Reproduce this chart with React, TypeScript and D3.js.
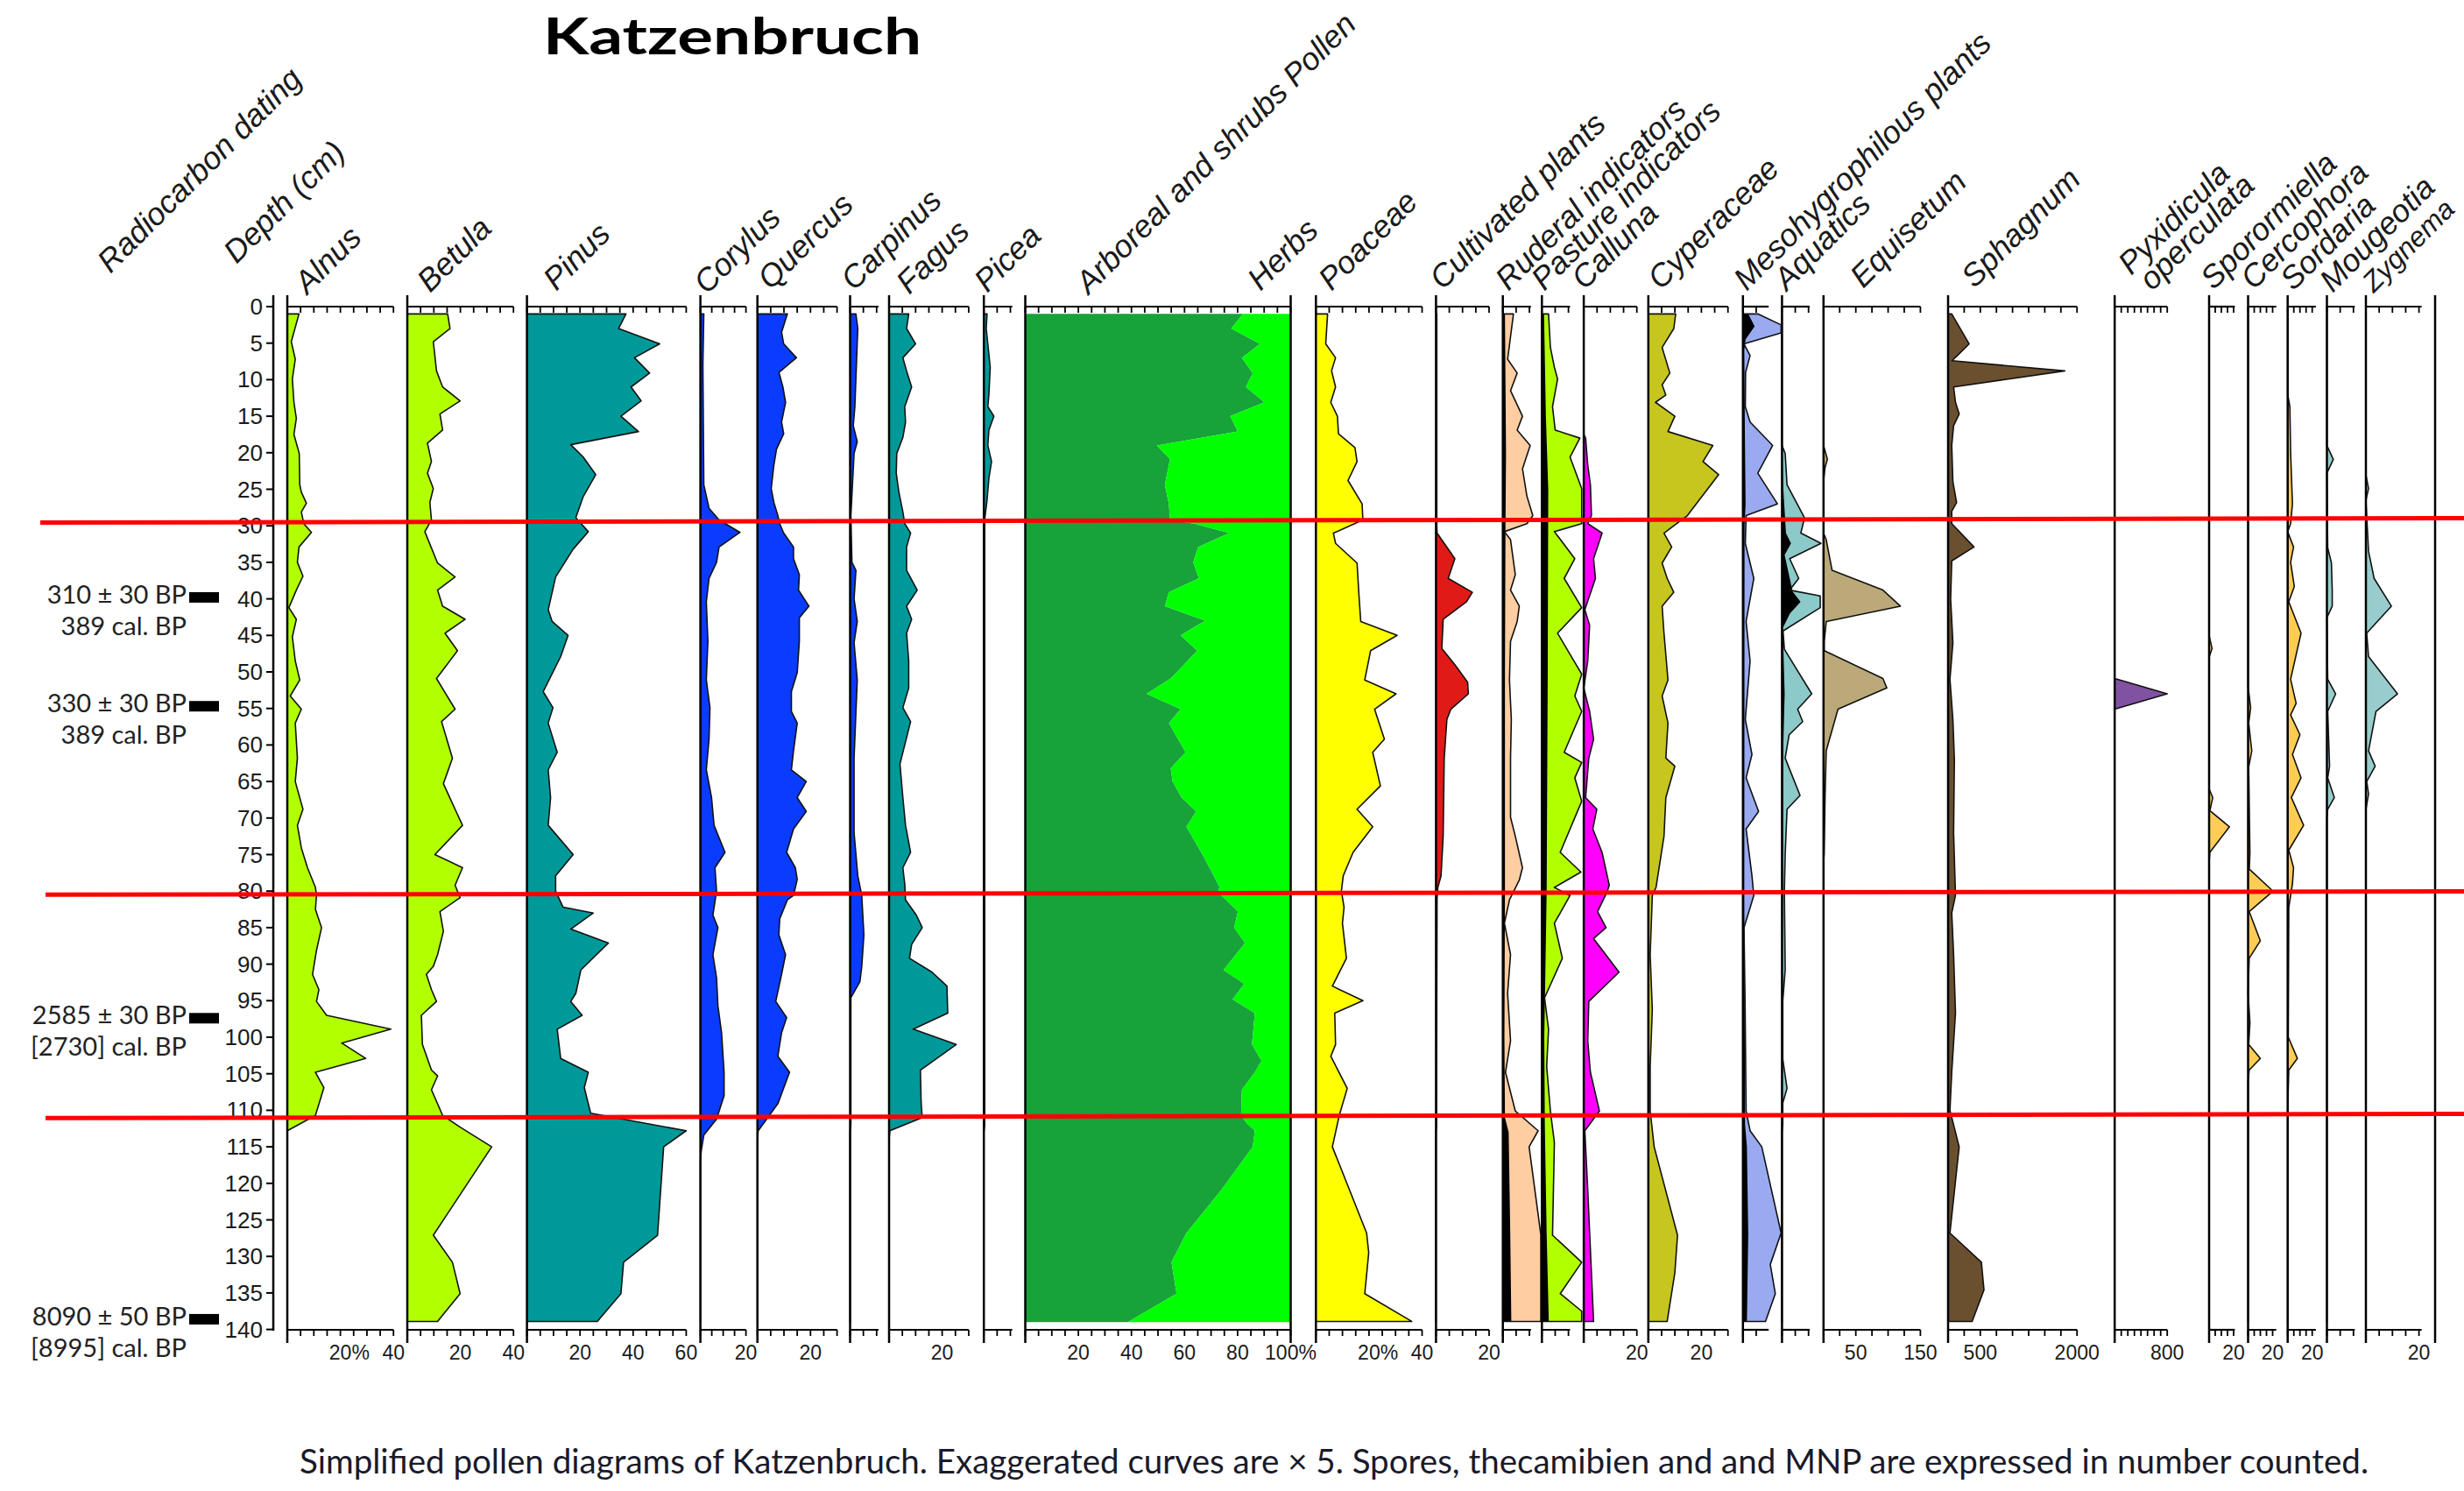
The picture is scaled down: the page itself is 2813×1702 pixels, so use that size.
import React from 'react';
import * as d3 from 'd3';

type Pt = [number, number]; // [depth cm, value]

// ---------- DATA ----------
const depthTicks = d3.range(0, 141, 5);
const zoneDepths: [number, number][] = [[29.56, 28.96], [80.5, 80.04], [111.07, 110.5]];
const dates = [
  { depth: 39.8, bp: '310 ± 30 BP', cal: '389 cal. BP' },
  { depth: 54.7, bp: '330 ± 30 BP', cal: '389 cal. BP' },
  { depth: 97.4, bp: '2585 ± 30 BP', cal: '[2730] cal. BP' },
  { depth: 138.6, bp: '8090 ± 50 BP', cal: '[8995] cal. BP' },
];

const alnus: Pt[] = [[1,4.4],[4.8,1.5],[7.2,3],[9.9,1.9],[13.1,2.5],[15.3,3.4],[17.5,2.5],[20.1,4.5],[24.4,4.7],[25.4,5.3],[26.9,7.2],[28.1,5.3],[29.7,6.2],[30.9,9.1],[32.9,4.4],[35,3.8],[36.9,5.9],[38.8,3.4],[41.2,0.6],[42.8,3.4],[45.2,1.9],[48.5,3],[51.1,4.7],[53.3,1.1],[55.1,5.3],[57,3],[61.8,3.8],[65,3],[68.8,5.9],[71,3.8],[74.1,5.3],[76.8,7.6],[79.5,10.6],[80.6,11],[82.5,10.6],[85,12.9],[88.1,11],[91.4,9.5],[93.5,11.9],[95.1,11],[97,14.8],[98.9,39],[100.8,20.5],[102.9,29.5],[104.8,10.6],[106.9,13.8],[110.7,10.6],[112.8,0],[139,0]];
const betula: Pt[] = [[1,15.2],[3,16.1],[4.8,9.8],[8.8,11],[11,13.3],[12.9,19.9],[14.7,12.3],[16.9,13.3],[18.7,7.6],[21.2,9.1],[22.8,7.6],[24.9,9.8],[26.8,8.5],[29.2,9.1],[30.8,6.6],[35.1,11.4],[37,18],[38.8,11.4],[41,13.3],[42.8,21.8],[44.7,14.2],[47.1,18.9],[50.9,11],[55.1,18],[56.8,12.9],[61.8,17],[65.3,13.6],[68.8,18],[71,20.8],[75,10.4],[76.8,20.8],[79.2,18],[80.9,19.9],[82.8,12.3],[85.5,13.6],[88.7,11.4],[90.3,9.8],[91.4,7.2],[93.5,9.1],[95.1,11],[97,5.3],[101,5.7],[104.5,9.1],[105.3,11.4],[107.2,9.1],[110.7,13.3],[112.3,19.9],[115,31.8],[127.1,9.8],[130.8,17],[135.1,19.9],[138.9,11.4]];
const pinus: Pt[] = [[1,37.3],[3,34.5],[5.1,50],[7,40.5],[9.1,46.2],[11,39.2],[12.9,43],[15,35.4],[17.1,42],[18.9,16.5],[20.6,21.2],[23,25.9],[26,21.2],[28.9,18.4],[30.8,23.1],[33.2,17.4],[37,10.8],[41.5,8],[43.1,9.5],[45,15.5],[47.9,12.7],[52.7,6.1],[54.9,9.8],[57,8],[61,11.4],[63.4,8],[67.2,8.9],[71,8],[75,17.4],[77.9,10.8],[80,10.8],[82.2,13.6],[83,25],[85.2,16.5],[87.1,30.7],[90.8,20.3],[94,18.4],[95.1,16.5],[97,20.8],[98.9,11.4],[102.9,12.7],[104.8,23.1],[106.9,21.6],[110.4,24],[112.8,60],[115,51.5],[127.1,49.2],[130.8,36.4],[135.1,35.4],[138.9,26.5]];
const corylus: Pt[] = [[1,1.5],[8,1.1],[24.4,1.5],[27.6,3.8],[29.2,8.2],[30.9,17.4],[32.9,8.2],[35,7.1],[37.2,3.8],[40.4,2.6],[45.8,3.3],[51.1,2.6],[54.9,4.2],[59.2,3.8],[63.4,2.6],[67.2,4.9],[71,6],[74.7,10.8],[76.8,6.4],[80,7.1],[83.3,5.5],[85,7.7],[88.7,5.5],[91.9,7.1],[95.7,7.7],[99.4,9.3],[104.8,10.4],[108,10.4],[111.2,7.1],[113.4,1.5],[115.5,0.4],[117,0],[139,0]];
const quercus: Pt[] = [[1,11.3],[3.5,9.1],[5.1,9.9],[7,14.7],[9,8.1],[11,9.6],[13.1,10.6],[15.8,9.1],[17.4,9.9],[19.5,7.2],[21.7,6.2],[24.9,5.2],[26.8,6.2],[28.6,7.7],[29.7,8.4],[31,9.9],[32.9,13.6],[34.5,13.6],[36.7,15.8],[38.8,15.5],[41,19.4],[42.6,15.8],[45.8,15.8],[50.1,15],[52.7,12.8],[55.4,12.8],[57,15],[60.8,13.6],[63.4,12.8],[65,18.4],[67.2,15],[69.1,18.4],[71.5,13.6],[74.7,11],[76.8,14.3],[78.4,15],[80.6,13.6],[81.2,11.3],[83.8,8.4],[86,8.1],[88.7,10.6],[91.4,9.1],[95.1,6.9],[97.3,11],[99.4,9.1],[102.6,7.7],[104.8,12.1],[109.1,7.7],[112.8,0.3],[114,0],[139,0]];
const carpinus: Pt[] = [[1,2.2],[3,2.9],[13.7,1.8],[16.3,1.2],[18.5,2.7],[20.1,1.5],[28.6,0.3],[35,0.7],[36.1,2.2],[40,1.5],[43.1,2.7],[46,1.5],[51.1,2.7],[61.8,1.5],[72,1.5],[77.9,2.9],[80.6,4.4],[86,5.2],[90.3,4.4],[92.4,3.7],[94.6,0.3],[112,0.3],[113,0],[139,0]];
const fagus: Pt[] = [[1,7.4],[3,6.6],[5.1,10],[7,5.2],[8.8,6.6],[11,8.5],[13.7,5.9],[15.8,6.2],[17.9,5.2],[20.1,2.9],[22.8,2.7],[25.4,3.7],[28.1,5.2],[29.7,5.9],[31,8.1],[32.9,6.6],[36.1,6.6],[38.8,10.6],[41,6.6],[42.8,8.5],[44.7,6.6],[48.5,7.4],[52.2,7.4],[54.9,5.2],[56.8,8.1],[62.6,4.1],[67.2,5.2],[71,6.2],[74.7,8.1],[76.8,5.2],[79,5.9],[81.2,6.2],[83.3,10.3],[85,12.5],[87.3,8.5],[89.2,7.7],[91.1,16.2],[93,21.8],[96.7,22.1],[98.9,9.1],[101,25.3],[104.5,11.8],[109.1,12.1],[111,12.5],[112.8,0.3],[114,0],[139,0]];
const picea: Pt[] = [[1,1.2],[3,0.9],[8.3,2.4],[12,1.9],[13.7,1.5],[15,3.8],[16.9,1.9],[19,1.5],[21.2,2.9],[23.5,1.9],[26.5,1.2],[29.2,0.3],[112,0.3],[113,0],[139,0]];
const arboreal: Pt[] = [[1,82],[3,77.6],[5.1,88.4],[7,81.6],[9.1,85.7],[11,83.1],[13.1,90.1],[15,77.2],[17.1,80.1],[19,49.6],[20.9,54.5],[24.4,52.6],[27,54.1],[29.2,54.5],[29.7,63.6],[31,76.9],[32.9,65.1],[35,63.3],[37.2,65.4],[39.1,54.1],[41,52.6],[43,67.8],[45,58.5],[47.1,64.8],[50.9,54.8],[53,45.7],[55.1,58.5],[57,54.1],[61,60.4],[63.2,54.8],[65,55.5],[67.2,58.9],[69.1,64.4],[71.2,60.7],[74.7,66.3],[77.4,70.3],[79.5,73.2],[80.1,72.5],[82.8,80.1],[85,78.7],[87.1,82.8],[90.8,74.7],[92.7,82.5],[94.8,78.1],[96.7,86.5],[101,85.4],[103.2,89],[104.8,86.5],[107.2,81.6],[110.7,81.3],[111.8,83.5],[112.8,86.5],[115,85.7],[120.9,73.9],[126.8,60.7],[130.8,55.1],[135.1,57],[139,38.6]];
const poaceae: Pt[] = [[1,4.4],[5.1,3.7],[7,7.4],[8.8,5.9],[11,7.4],[13.1,5.6],[15,8.1],[17.4,8.5],[19.3,14.7],[21.2,15.5],[23.8,12.1],[27,17.4],[29.2,17.7],[31,6.6],[32.4,7.4],[35.1,15.5],[39.4,16.2],[43.1,16.9],[45,30.6],[47.1,20.6],[51.1,18.4],[53,30.2],[55.1,22.1],[59.2,25.8],[61,21.4],[65.6,24.3],[68.8,15.5],[71.2,21.4],[74.7,14],[77.9,10.3],[80,9.6],[82.2,10.6],[84.4,10],[89.2,11.5],[93,6.2],[95,17.7],[96.7,7.1],[101,7.4],[102.6,5.6],[107,11.8],[110.7,8.8],[115,6.2],[126.8,19.1],[129.5,19.9],[135.1,18.4],[138.9,36.1]];
const cultivated: Pt[] = [[1,0.3],[30,0.3],[31,0.4],[34.5,7.1],[37.2,4.6],[39.1,13.7],[40.4,11.5],[42.8,2.7],[46.8,2.2],[49,7.1],[51.4,11.9],[53,12.2],[55.1,5.6],[56.5,4.1],[61.8,3.1],[72.5,2.7],[77.9,1.9],[79.5,0.7],[81,0.4],[95,0.3],[112,0.2],[113,0],[139,0]];
const ruderal: Pt[] = [[1,4],[7.2,1.8],[9.1,5.4],[11.5,2.9],[15,7.4],[16.9,5.4],[19,10.3],[22.2,7.4],[26,9.1],[28.6,11.3],[29.7,9.1],[30.8,0.6],[31.9,2.9],[36.7,4.7],[38.8,2.9],[41,6.2],[43.1,5.4],[45.8,2.9],[51.1,2.5],[56.5,3.2],[61.8,2.9],[69.9,2.9],[72.5,4.7],[76.8,7.4],[78.5,6.2],[81.2,2.5],[84.4,0.6],[88.7,2.9],[94,1.8],[100.5,2.9],[104.8,1],[110.1,4.7],[112.8,13.3],[115,9.9],[127,14.3],[138.9,14.3]];
const ruderalBlack: Pt[] = [[1,0.8],[20,1.2],[30,1],[50,0.8],[80,0.8],[100,0.6],[111,0.8],[113,2.2],[127,2.8],[138.9,3.2]];
const pasture: Pt[] = [[1,2.5],[5.6,3.2],[8.3,4.7],[9.9,5.9],[13.7,4],[16.9,5],[18,14.3],[20.6,10.6],[24.9,15],[29.7,15],[30.8,4.7],[34.5,12.4],[37.2,8.4],[41.2,15],[44.7,5.9],[50.3,15],[53.3,12.4],[55.4,15],[61,8.4],[62.4,15],[64.5,12.4],[67.7,15],[74.7,6.9],[77.4,14.7],[79.5,4.7],[80.6,10.6],[84.4,4.7],[89.2,7.7],[94.6,1],[98.9,2.5],[104,1.8],[110.1,3.2],[114.4,4.7],[127.1,4],[130.8,15],[135.1,6.9],[137.5,15],[138.9,15]];
const pastureBlack: Pt[] = [[1,0.8],[15,1.5],[25,2.4],[50,2.2],[80,1.8],[100,0.9],[112,1.1],[127,1.8],[138.9,2.6]];
const calluna: Pt[] = [[1,0],[17.5,0],[18,0.7],[21.7,1.5],[24.4,2.5],[28.6,2.9],[29.7,1.5],[31,6.9],[34.5,3.7],[37.2,4.4],[41.5,0.4],[43.6,2.2],[48.5,1.5],[52.2,0],[55.4,2.2],[59.2,3.7],[61.8,1.9],[67.2,0.7],[68.8,4.9],[71.5,3.4],[74.7,6.9],[79.2,9.6],[80.1,8.8],[82.8,5.2],[85,8.4],[86.5,3.7],[91.1,13.3],[95.1,1.9],[100.5,1.5],[104.8,2.5],[110.1,5.9],[112.8,0.4],[120.9,1.5],[138.9,3.7]];
const cyperaceae: Pt[] = [[1,10.3],[3,9.6],[5.6,5.2],[9.1,8.1],[10.7,5.2],[12.1,6.6],[13.1,2.7],[15,10],[17.1,7.4],[19,24.3],[21.2,20.6],[23,26.5],[28.6,14.7],[30,9.6],[31,5.9],[32.9,8.8],[35.1,5.2],[37.2,7.1],[39.1,9.6],[41,5.2],[44.7,5.9],[51.1,7.4],[53.3,5.2],[57,7.4],[61.8,6.6],[62.9,10],[67.2,6.6],[72.5,5.9],[79.5,2.9],[80.6,1.5],[88.7,0.7],[96.2,1.5],[104,0.7],[110.1,0.7],[115,2.2],[127.1,11],[132.2,10],[138.9,7.1]];
const meso: Pt[] = [[1,5.6],[2.5,14.4],[3.6,14.4],[5.1,0.4],[6.7,2.7],[9,1],[13.7,0.9],[15.8,2.7],[19,11.2],[22.8,5.6],[27,13],[28.6,1.2],[32.4,0.9],[37.2,4.1],[43.1,1.2],[48.5,2.7],[56.5,0.9],[61.3,3.4],[64.5,1.2],[69.1,5.9],[71.5,1.2],[77.9,3.4],[80.6,4.1],[85,0.4],[95,0.8],[110.1,1.2],[112.8,2.7],[115,7.1],[126.8,14.4],[131.1,10.3],[135.1,12.2],[138.9,8.5]];
const mesoBlack: Pt[] = [[1,2],[2.7,4.4],[4.5,1],[6,0.5],[20,0.8],[27,1],[30,0.6],[80,0.5],[112,0.8],[115,1.5],[127,2],[138.9,1.5]];
const aquatics: Pt[] = [[1,0],[19,0],[20.1,1.2],[24.4,1.9],[28.9,8.5],[31,7.1],[32.4,14.7],[34.5,2.9],[37.2,6.3],[38.8,2.9],[39.6,14.4],[41.2,14.4],[44.4,0.4],[46.9,0.9],[53,11.2],[55.1,5.9],[56.8,7.8],[58.6,2.7],[61.8,1.2],[66.9,6.8],[68.8,1.9],[75,1.2],[80,0.9],[90.8,1.2],[95,0.3],[103,0.3],[107,1.9],[109,0.3],[112,0.3],[113,0],[139,0]];
const aquaticsBlack: Pt[] = [[19,0],[25,0.5],[31,1.5],[32.4,3.4],[34,1],[39,4],[40.4,7],[42,3],[44,0.3],[53,1],[60,0.5],[80,0.3],[111,0.2],[113,0]];
const equisetum: Pt[] = [[1,0],[19,0],[20.9,6],[22,2.4],[24,0],[31,0],[31.9,4.2],[36.1,13.3],[38.8,92],[41,119],[43.1,4.2],[45.8,1.2],[47.1,1.2],[50.9,92],[52.2,98],[55.1,22.4],[60.8,4.2],[67,2.4],[75,1],[76,0],[139,0]];
const sphagnum: Pt[] = [[1,57],[5.1,327],[6.7,144],[7.4,60],[8.8,1810],[11,86],[13.1,115],[14.7,172],[16.3,86],[19,57],[24,75],[26.8,132],[28,57],[29.7,57],[32.9,402],[34.8,57],[40,40],[46,75],[51,29],[56.5,75],[62,98],[72,86],[80.6,115],[83,57],[88.7,86],[96.7,115],[104.8,57],[110,29],[115,172],[126.8,29],[130.8,517],[134.6,557],[138.9,373]];
const pyxidicula: Pt[] = [[1,0],[50.9,0],[53,800],[55.1,0],[139,0]];
const sporormiella: Pt[] = [[1,0],[45,0],[46.8,2.4],[48,0],[66,0],[67.2,3],[69,0.6],[71.2,16.6],[74.7,0.6],[76,0],[139,0]];
const cercophora: Pt[] = [[1,0],[52,0],[54.9,2.1],[57,0.5],[60.8,3],[63,0.5],[74.7,1.5],[77,1],[79.8,19],[80.1,19.6],[82.8,0.9],[86.8,10],[89.2,0.9],[94,0],[98,1.5],[101,0.5],[102.9,10],[104.5,0.9],[106,0],[139,0]];
const sordaria: Pt[] = [[1,0],[12,0],[13.7,1.8],[20,2.4],[27,3.9],[29.7,2.4],[30.8,0],[32.9,4.8],[35,2.4],[38.3,5.4],[40.4,0.9],[44.7,10.9],[51,2.4],[54.3,6.9],[55.9,2.4],[58.6,10],[61.3,3.9],[64.5,10.9],[67.2,3],[71,13],[74.4,0.9],[76.8,4.8],[79,3.9],[82.2,0.9],[100,0.5],[102.9,7.9],[104.5,0.9],[110,0],[139,0]];
const mougeotia: Pt[] = [[1,0],[19,0],[20.9,2.4],[22.8,0],[33,0.3],[35.1,1.7],[38.8,2],[41,2],[42.6,0],[51,0.3],[53,3.3],[55.4,0.3],[62.9,1],[64.5,0.3],[67.2,2.8],[68.8,0.3],[70,0],[139,0]];
const zygnema: Pt[] = [[1,0],[23,0],[24.9,1],[26.5,0],[33.5,1],[37.2,3.1],[41,9.6],[44.7,0.3],[47.9,1],[53,11.9],[55.4,3.8],[60.8,1],[62.9,3.5],[65,0.3],[66.7,1],[68.8,0],[139,0]];

// ---------- LAYOUT / STYLE ----------
const W = 2813, H = 1702;
const TOP_AXIS = 350, BOT_AXIS = 1518, LINE_TOP = 337, LINE_BOT = 1533;
const y = d3.scaleLinear().domain([0, 140]).range([350, 1517.6]);
const PCT = 3.03;
const labelFont = "'Liberation Sans', Arial, sans-serif";
const calFont = "Lato, 'Open Sans', sans-serif";

type Panel = {
  name: string; lines?: string[]; data: Pt[]; black?: Pt[]; color: string;
  left: number; max: number; px: number; step: number; labels: number[];
  pct?: number; pctCenter?: boolean; lx: number; ly: number; ap?: boolean; lfs?: number;
};

const panels: Panel[] = [
  { name: 'Alnus', data: alnus, color: '#B2FF00', left: 328, max: 40, px: PCT, step: 5, labels: [20, 40], pct: 20, lx: 351, ly: 337 },
  { name: 'Betula', data: betula, color: '#B2FF00', left: 465, max: 40, px: PCT, step: 5, labels: [20, 40], lx: 491, ly: 335 },
  { name: 'Pinus', data: pinus, color: '#009999', left: 601.6, max: 60, px: PCT, step: 5, labels: [20, 40, 60], lx: 635, ly: 333 },
  { name: 'Corylus', data: corylus, color: '#0A3CFF', left: 799.6, max: 20, px: 2.6, step: 5, labels: [20], lx: 807, ly: 337 },
  { name: 'Quercus', data: quercus, color: '#0A3CFF', left: 864.7, max: 30, px: PCT, step: 5, labels: [20], lx: 880, ly: 332 },
  { name: 'Carpinus', data: carpinus, color: '#0A3CFF', left: 970.5, max: 10.7, px: PCT, step: 5, labels: [], lx: 975, ly: 333 },
  { name: 'Fagus', data: fagus, color: '#009999', left: 1015, max: 30, px: PCT, step: 5, labels: [20], lx: 1038, ly: 337 },
  { name: 'Picea', data: picea, color: '#009999', left: 1123.2, max: 10.7, px: PCT, step: 5, labels: [], lx: 1127, ly: 335 },
  { name: 'Arboreal and shrubs Pollen', data: arboreal, color: '#17A23A', left: 1170.5, max: 100, px: PCT, step: 5, labels: [20, 40, 60, 80, 100], pct: 100, pctCenter: true, lx: 1243, ly: 337, ap: true },
  { name: 'Poaceae', data: poaceae, color: '#FFFF00', left: 1502.3, max: 40, px: PCT, step: 5, labels: [20, 40], pct: 20, lx: 1520, ly: 333 },
  { name: 'Cultivated plants', data: cultivated, color: '#E01B17', left: 1639.4, max: 20, px: PCT, step: 5, labels: [20], lx: 1647, ly: 332 },
  { name: 'Ruderal indicators', data: ruderal, black: ruderalBlack, color: '#FFCDA2', left: 1715.7, max: 10.6, px: PCT, step: 5, labels: [], lx: 1722, ly: 333 },
  { name: 'Pasture indicators', data: pasture, black: pastureBlack, color: '#B2FF00', left: 1760.3, max: 10.6, px: PCT, step: 5, labels: [], lx: 1763, ly: 333 },
  { name: 'Calluna', data: calluna, color: '#FF00FF', left: 1808.1, max: 20, px: PCT, step: 5, labels: [20], lx: 1809, ly: 332 },
  { name: 'Cyperaceae', data: cyperaceae, color: '#C6C61E', left: 1881.8, max: 30, px: PCT, step: 5, labels: [20], lx: 1896, ly: 332 },
  { name: 'Mesohygrophilous plants', data: meso, black: mesoBlack, color: '#99AAF0', left: 1989.8, max: 9.7, px: PCT, step: 5, labels: [], lx: 1994, ly: 333 },
  { name: 'Aquatics', data: aquatics, black: aquaticsBlack, color: '#8CC9C9', left: 2034.4, max: 10.4, px: PCT, step: 5, labels: [], lx: 2040, ly: 333 },
  { name: 'Equisetum', data: equisetum, color: '#BBA979', left: 2081.8, max: 150, px: 0.7373, step: 25, labels: [50, 150], lx: 2127, ly: 330 },
  { name: 'Sphagnum', data: sphagnum, color: '#6B5030', left: 2224, max: 2000, px: 0.0736, step: 250, labels: [500, 2000], lx: 2254, ly: 330 },
  { name: 'Pyxidicula', lines: ['Pyxidicula', 'operculata'], data: pyxidicula, color: '#8152A2', left: 2414.2, max: 800, px: 0.075, step: 100, labels: [800], lx: 2433, ly: 315 },
  { name: 'Sporormiella', data: sporormiella, color: '#FFCC55', left: 2522, max: 21, px: 1.4, step: 5, labels: [20], lx: 2527, ly: 332 },
  { name: 'Cercophora', data: cercophora, color: '#FFCC55', left: 2566.5, max: 23, px: 1.4, step: 5, labels: [20], lx: 2573, ly: 332 },
  { name: 'Sordaria', data: sordaria, color: '#FFCC55', left: 2611.7, max: 23, px: 1.4, step: 5, labels: [20], lx: 2618, ly: 333 },
  { name: 'Mougeotia', data: mougeotia, color: '#99CCCC', left: 2656.5, max: 10.5, px: PCT, step: 5, labels: [], lx: 2663, ly: 335 },
  { name: 'Zygnema', data: zygnema, color: '#99CCCC', left: 2701, max: 21, px: PCT, step: 5, labels: [20], lx: 2710, ly: 335, lfs: 32 },
];

const TICK_FS = 23;

function PanelView({ p }: { p: Panel }) {
  const right = p.left + p.max * p.px;
  const x = d3.scaleLinear().domain([0, p.max]).range([p.left, right]);
  const ticks = d3.range(0, p.max + 1e-6, p.step);
  const area = d3.area<Pt>().y(d => y(d[0])).x0(p.left).x1(d => x(d[1]));
  const first = p.data[0], last = p.data[p.data.length - 1];
  const outline: Pt[] = [[first[0], 0], ...p.data, [last[0], 0]];
  const line = d3.line<Pt>().x(d => x(d[1])).y(d => y(d[0]));
  const herbs = d3.area<Pt>().y(d => y(d[0])).x0(d => x(d[1])).x1(x(100));
  return (
    <g>
      {p.ap ? (
        <>
          <path d={area(p.data) || ''} fill={p.color} />
          <path d={herbs(p.data) || ''} fill="#00FF00" />
          <line x1={right} x2={right} y1={LINE_TOP} y2={LINE_BOT} stroke="#000" strokeWidth={2.5} />
        </>
      ) : (
        <>
          <path d={area(p.data) || ''} fill={p.color} />
          {p.black && <path d={area(p.black) || ''} fill="#000" />}
          <path d={line(outline) || ''} fill="none" stroke="#111" strokeWidth={1.6} strokeLinejoin="round" />
        </>
      )}
      <line x1={p.left} x2={p.left} y1={LINE_TOP} y2={LINE_BOT} stroke="#000" strokeWidth={2.5} />
      {[TOP_AXIS, BOT_AXIS].map(ay => (
        <g key={ay}>
          <line x1={p.left} x2={right} y1={ay} y2={ay} stroke="#000" strokeWidth={2.2} />
          {ticks.map(t => (
            <line key={t} x1={x(t)} x2={x(t)} y1={ay} y2={ay + 7} stroke="#000" strokeWidth={1.8} />
          ))}
        </g>
      ))}
      {p.labels.map(v => {
        const isPct = p.pct === v;
        const txt = isPct ? `${v}%` : `${v}`;
        const anchorStart = isPct && !p.pctCenter;
        const halfNum = String(v).length * 0.556 * TICK_FS / 2;
        return (
          <text key={v} x={anchorStart ? x(v) - halfNum : x(v)} y={1552}
            textAnchor={anchorStart ? 'start' : 'middle'} fontSize={TICK_FS}
            fontFamily={labelFont} fill="#1a1a1a">{txt}</text>
        );
      })}
      {(p.lines || [p.name]).map((s, i) => (
        <text key={s} transform={`translate(${p.lx + i * 24},${p.ly + i * 18}) rotate(-45)`}
          fontSize={p.lfs || 36} fontStyle="italic" fontFamily={labelFont} fill="#1a1a1a">{s}</text>
      ))}
      {p.ap && (
        <text transform={`translate(1439,333) rotate(-45)`} fontSize={36} fontStyle="italic"
          fontFamily={labelFont} fill="#1a1a1a">Herbs</text>
      )}
    </g>
  );
}

export default function App() {
  return (
    <svg width={W} height={H} viewBox={`0 0 ${W} ${H}`}
      style={{ position: 'absolute', left: 0, top: 0, background: '#fff' }}>
      <rect x={0} y={0} width={W} height={H} fill="#fff" />
      <text x={620} y={62} fontSize={58} fontWeight="bold" fontFamily={calFont}
        textLength={432} lengthAdjust="spacingAndGlyphs" fill="#000">Katzenbruch</text>

      {/* header labels for left columns */}
      <text transform="translate(126,313) rotate(-45)" fontSize={36} fontStyle="italic"
        fontFamily={labelFont} fill="#1a1a1a">Radiocarbon dating</text>
      <text transform="translate(270,302) rotate(-45)" fontSize={36} fontStyle="italic"
        fontFamily={labelFont} fill="#1a1a1a">Depth (cm)</text>

      {/* depth axis */}
      <line x1={312} x2={312} y1={LINE_TOP} y2={BOT_AXIS + 1} stroke="#000" strokeWidth={2.5} />
      {depthTicks.map(d => (
        <g key={d}>
          <line x1={304} x2={312} y1={y(d)} y2={y(d)} stroke="#000" strokeWidth={2} />
          <text x={300} y={y(d) + 9} textAnchor="end" fontSize={26} fontFamily={labelFont}
            fill="#1a1a1a">{d}</text>
        </g>
      ))}

      {/* radiocarbon dates */}
      {dates.map(dt => (
        <g key={dt.bp}>
          <rect x={216} y={y(dt.depth) - 6} width={34} height={12} fill="#000" />
          <text x={213} y={y(dt.depth) + 7} textAnchor="end" fontSize={29} fontFamily={calFont}
            fill="#222">{dt.bp}</text>
          <text x={213} y={y(dt.depth) + 43} textAnchor="end" fontSize={29} fontFamily={calFont}
            fill="#222">{dt.cal}</text>
        </g>
      ))}

      {panels.map(p => <PanelView key={p.name} p={p} />)}
      <line x1={2780} x2={2780} y1={LINE_TOP} y2={LINE_BOT} stroke="#000" strokeWidth={2.5} />

      {/* zone boundaries */}
      {zoneDepths.map(([a, b], i) => (
        <line key={i} x1={i === 0 ? 46 : 52} x2={W} y1={y(a)} y2={y(b)} stroke="#FF0000" strokeWidth={5} />
      ))}

      <text x={342} y={1682} fontSize={39} fontFamily={calFont} fill="#1a1a2a"
        textLength={2362} lengthAdjust="spacingAndGlyphs">
        Simplified pollen diagrams of Katzenbruch. Exaggerated curves are × 5. Spores, thecamibien and and MNP are expressed in number counted.
      </text>
    </svg>
  );
}
